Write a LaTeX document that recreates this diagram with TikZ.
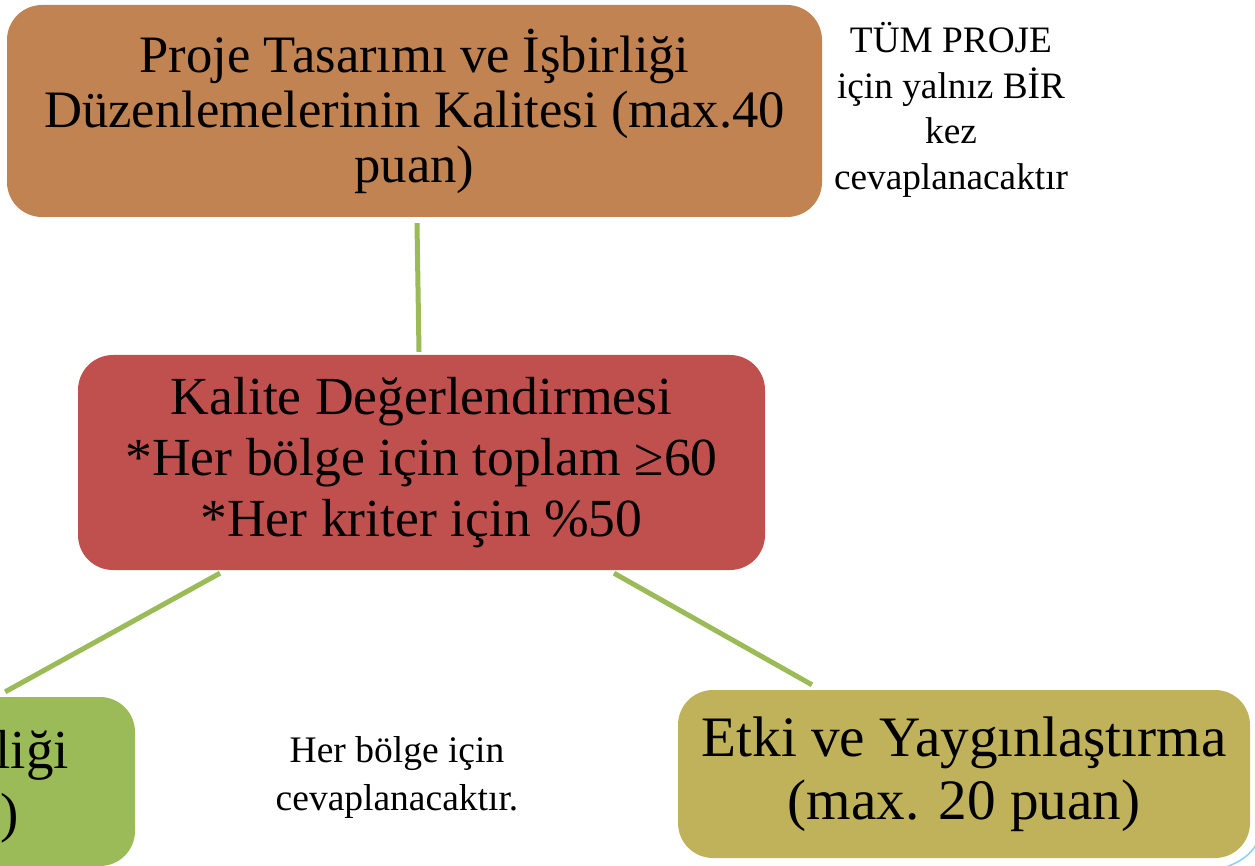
\documentclass[tikz,border=0pt]{standalone}
\usepackage{fontspec}
\setmainfont{Liberation Serif}
\definecolor{brownbox}{RGB}{192,131,81}
\definecolor{redbox}{RGB}{192,80,77}
\definecolor{greenbox}{RGB}{155,187,89}
\definecolor{olivebox}{RGB}{191,178,90}
\definecolor{lightblue}{RGB}{140,210,240}
\begin{document}
\begin{tikzpicture}[x=1pt,y=-1pt,
  box/.style={rectangle, rounded corners=35pt, inner sep=0pt, align=center, text=black},
  conn/.style={draw=greenbox, line width=5pt},
  note/.style={align=center, text=black, inner sep=0pt}]
\clip (0,0) rectangle (1255,866);
\fill[white] (0,0) rectangle (1255,866);
% boxes
\node[box, fill=brownbox, minimum width=815pt, minimum height=212pt,
  font=\fontsize{52.6}{55}\selectfont] (top) at (414.5,111)
  {Proje Tasarımı ve İşbirliği\\Düzenlemelerinin Kalitesi (max.40\\puan)};
\node[box, fill=redbox, minimum width=687pt, minimum height=215pt,
  font=\fontsize{53.6}{61}\selectfont] (mid) at (421.5,462.5)
  {Kalite Değerlendirmesi\\*Her bölge için toplam ≥60\\*Her kriter için \%50};
\node[box, fill=greenbox, minimum width=520pt, minimum height=169pt] (left) at (-125,781.5) {};
\node[note, align=right, anchor=east, font=\fontsize{55}{63}\selectfont] (lefttext) at (69,783)
  {Projenin İlgililiği\\(max. 40 puan)\hspace*{50pt}};
\node[box, fill=olivebox, minimum width=572pt, minimum height=168pt,
  font=\fontsize{57.2}{63}\selectfont] (right) at (964,774)
  {Etki ve Yaygınlaştırma\\(max. 20 puan)};
% notes
\node[note, font=\fontsize{37.3}{45.5}\selectfont] (n1) at (951,110)
  {TÜM PROJE\\için yalnız BİR\\kez\\cevaplanacaktır};
\node[note, font=\fontsize{37.5}{48}\selectfont] (n2) at (397,777)
  {Her bölge için\\cevaplanacaktır.};
% connectors
\draw[conn] ([xshift=2.5pt,yshift=-6pt]top.south) -- ([xshift=-2.5pt,yshift=3pt]mid.north);
\draw[conn] ([xshift=-201.5pt,yshift=-3pt]mid.south) -- ([xshift=-130pt,yshift=5pt]left.north east);
\draw[conn] ([xshift=192.5pt,yshift=-3pt]mid.south) -- ([xshift=-152pt,yshift=5pt]right.north);
% decoration fragment
\coordinate (d1) at (1226,867);
\coordinate (d2) at (1256,845);
\draw[lightblue, line width=1.5pt] (d1) .. controls (1240,862) and (1250,855) .. (d2);
\end{tikzpicture}
\end{document}
